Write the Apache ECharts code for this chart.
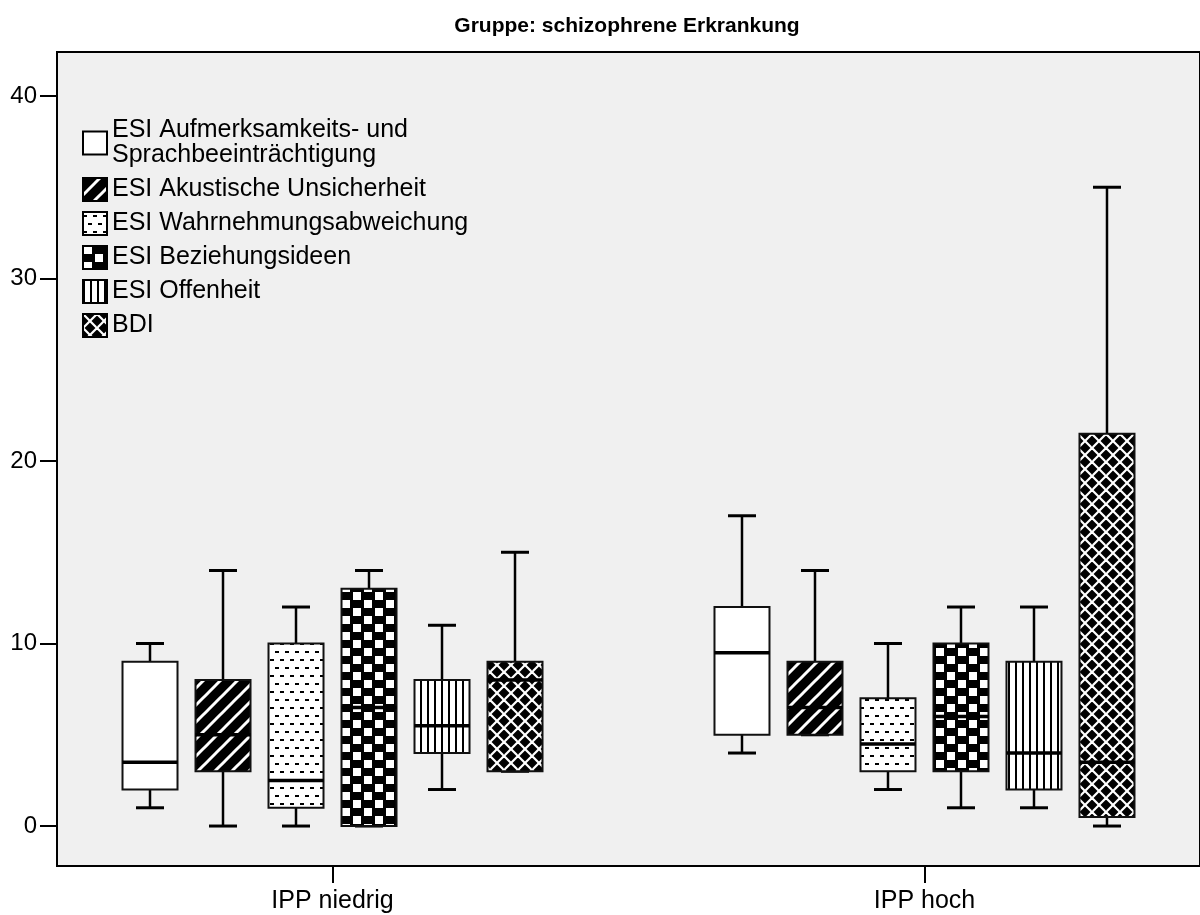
<!DOCTYPE html>
<html>
<head>
<meta charset="utf-8">
<script src="https://cdn.jsdelivr.net/npm/echarts@6/dist/echarts.min.js"></script>
<style>
  html, body { margin: 0; padding: 0; background: #fff; }
  #chart { width: 1200px; height: 915px; }
</style>
</head>
<body>
<div id="chart"></div>
<script>
// groups on the x axis
const groups = ['IPP niedrig', 'IPP hoch'];

const seriesNames = [
    'ESI Aufmerksamkeits- und Sprachbeeinträchtigung',
    'ESI Akustische Unsicherheit',
    'ESI Wahrnehmungsabweichung',
    'ESI Beziehungsideen',
    'ESI Offenheit',
    'BDI'
];

// [min, q1, median, q3, max] per group
const aufmerksamkeit = [[1, 2, 3.5, 9, 10], [4, 5, 9.5, 12, 17]];
const akustisch = [[0, 3, 5, 8, 14], [5, 5, 6.5, 9, 14]];
const wahrnehmung = [[0, 1, 2.5, 10, 12], [2, 3, 4.5, 7, 10]];
const beziehung = [[0, 0, 6.5, 13, 14], [1, 3, 6, 10, 12]];
const offenheit = [[2, 4, 5.5, 8, 11], [1, 2, 4, 9, 12]];
const bdi = [[3, 3, 8, 9, 15], [0, 0.5, 3.5, 21.5, 35]];

const yTicks = [0, 10, 20, 30, 40];

const allStats = [aufmerksamkeit, akustisch, wahrnehmung, beziehung, offenheit, bdi];

// fill patterns drawn on small canvases
function makePattern(kind) {
    const c = document.createElement('canvas');
    let ctx;
    if (kind === 'blank') {
        c.width = 4; c.height = 4;
        ctx = c.getContext('2d');
        ctx.fillStyle = '#fff';
        ctx.fillRect(0, 0, 4, 4);
    } else if (kind === 'stripes') {
        const s = 17;
        c.width = s; c.height = s;
        ctx = c.getContext('2d');
        ctx.fillStyle = '#000';
        ctx.fillRect(0, 0, s, s);
        ctx.strokeStyle = '#fff';
        ctx.lineWidth = 3;
        [[0, s, s, 0], [-s, s, s, -s], [0, 2 * s, 2 * s, 0]].forEach(l => {
            ctx.beginPath(); ctx.moveTo(l[0], l[1]); ctx.lineTo(l[2], l[3]); ctx.stroke();
        });
    } else if (kind === 'dashes') {
        c.width = 10; c.height = 16;
        ctx = c.getContext('2d');
        ctx.fillStyle = '#fff';
        ctx.fillRect(0, 0, 10, 16);
        ctx.fillStyle = '#000';
        ctx.fillRect(0, 3, 4, 2);
        ctx.fillRect(5, 11, 4, 2);
    } else if (kind === 'checker') {
        c.width = 22; c.height = 16;
        ctx = c.getContext('2d');
        ctx.fillStyle = '#000';
        ctx.fillRect(0, 0, 22, 16);
        ctx.fillStyle = '#fff';
        ctx.fillRect(1, 0, 8, 8);
        ctx.fillRect(12, 8, 8, 8);
    } else if (kind === 'vlines') {
        c.width = 7; c.height = 4;
        ctx = c.getContext('2d');
        ctx.fillStyle = '#fff';
        ctx.fillRect(0, 0, 7, 4);
        ctx.fillStyle = '#000';
        ctx.fillRect(0, 0, 2, 4);
    } else if (kind === 'cross') {
        const s = 14;
        c.width = s; c.height = s;
        ctx = c.getContext('2d');
        ctx.fillStyle = '#000';
        ctx.fillRect(0, 0, s, s);
        ctx.strokeStyle = '#fff';
        ctx.lineWidth = 2.2;
        ctx.beginPath(); ctx.moveTo(0, 0); ctx.lineTo(s, s); ctx.stroke();
        ctx.beginPath(); ctx.moveTo(s, 0); ctx.lineTo(0, s); ctx.stroke();
    }
    return { image: c, repeat: 'repeat' };
}

const patterns = ['blank', 'stripes', 'dashes', 'checker', 'vlines', 'cross'].map(makePattern);

const BOX_STEP = 73;   // px between neighbouring boxes
const BOX_W = 55;
const CAP_W = 28;

function makeRenderItem(k) {
    return function (params, api) {
        const g = api.value(0);
        const cx = api.coord([g, 0])[0] + (k - 2.5) * BOX_STEP;
        const yMin = api.coord([g, api.value(1)])[1];
        const yQ1 = api.coord([g, api.value(2)])[1];
        const yMed = api.coord([g, api.value(3)])[1];
        const yQ3 = api.coord([g, api.value(4)])[1];
        const yMax = api.coord([g, api.value(5)])[1];
        const line = (x1, y1, x2, y2, w) => ({
            type: 'line',
            shape: { x1, y1, x2, y2 },
            style: { stroke: '#000', lineWidth: w }
        });
        return {
            type: 'group',
            children: [
                line(cx, yMax, cx, yQ3, 2.5),
                line(cx - CAP_W / 2, yMax, cx + CAP_W / 2, yMax, 3),
                line(cx, yQ1, cx, yMin, 2.5),
                line(cx - CAP_W / 2, yMin, cx + CAP_W / 2, yMin, 3),
                {
                    type: 'rect',
                    shape: { x: cx - BOX_W / 2, y: yQ3, width: BOX_W, height: yQ1 - yQ3 },
                    style: { fill: patterns[k], stroke: '#111', lineWidth: 2 }
                },
                line(cx - BOX_W / 2, yMed, cx + BOX_W / 2, yMed, 3.5)
            ]
        };
    };
}

const series = seriesNames.map((name, k) => ({
    name: name,
    type: 'custom',
    renderItem: makeRenderItem(k),
    itemStyle: { color: patterns[k], borderColor: '#000', borderWidth: 2 },
    encode: { x: 0, y: [1, 2, 3, 4, 5] },
    data: allStats[k].map((vals, g) => [g].concat(vals))
}));

const chart = echarts.init(document.getElementById('chart'), null, { renderer: 'canvas' });

chart.setOption({
    backgroundColor: '#fff',
    animation: false,
    textStyle: { fontFamily: 'Liberation Sans, Arial, sans-serif', color: '#000' },
    title: {
        text: 'Gruppe: schizophrene Erkrankung',
        left: 622,
        top: 11,
        textAlign: 'center',
        textStyle: { fontSize: 21, fontWeight: 'bold', color: '#000', fontFamily: 'Liberation Sans, Arial, sans-serif' }
    },
    legend: {
        orient: 'vertical',
        left: 82,
        top: 118,
        padding: 0,
        icon: 'rect',
        itemWidth: 24,
        itemHeight: 23,
        itemGap: 9,
        selectedMode: false,
        itemStyle: { borderColor: '#000', borderWidth: 2 },
        formatter: name => name.replace('- und ', '- und\n'),
        textStyle: { fontSize: 25, lineHeight: 25, color: '#000', fontFamily: 'Liberation Sans, Arial, sans-serif' },
        data: seriesNames
    },
    grid: {
        left: 57,
        top: 52,
        width: 1145,
        height: 814,
        show: true,
        backgroundColor: '#f0f0f0',
        borderColor: '#000',
        borderWidth: 2
    },
    xAxis: {
        type: 'value',
        min: -0.4654,
        max: 1.4654,
        splitLine: { show: false },
        axisLine: { show: true, onZero: false, lineStyle: { color: '#000', width: 2 } },
        axisTick: { show: true, customValues: [0, 1], length: 17, lineStyle: { color: '#000', width: 2 } },
        axisLabel: {
            customValues: [0, 1],
            formatter: v => groups[Math.round(v)],
            fontSize: 25,
            margin: 23,
            color: '#000'
        }
    },
    yAxis: {
        type: 'value',
        min: -2.19,
        max: 42.41,
        splitLine: { show: false },
        axisLine: { show: true, onZero: false, lineStyle: { color: '#000', width: 2 } },
        axisTick: { show: true, customValues: yTicks, length: 17, lineStyle: { color: '#000', width: 2 } },
        axisLabel: {
            customValues: yTicks,
            fontSize: 24,
            margin: 20,
            color: '#000'
        }
    },
    series: series
});
</script>
</body>
</html>
